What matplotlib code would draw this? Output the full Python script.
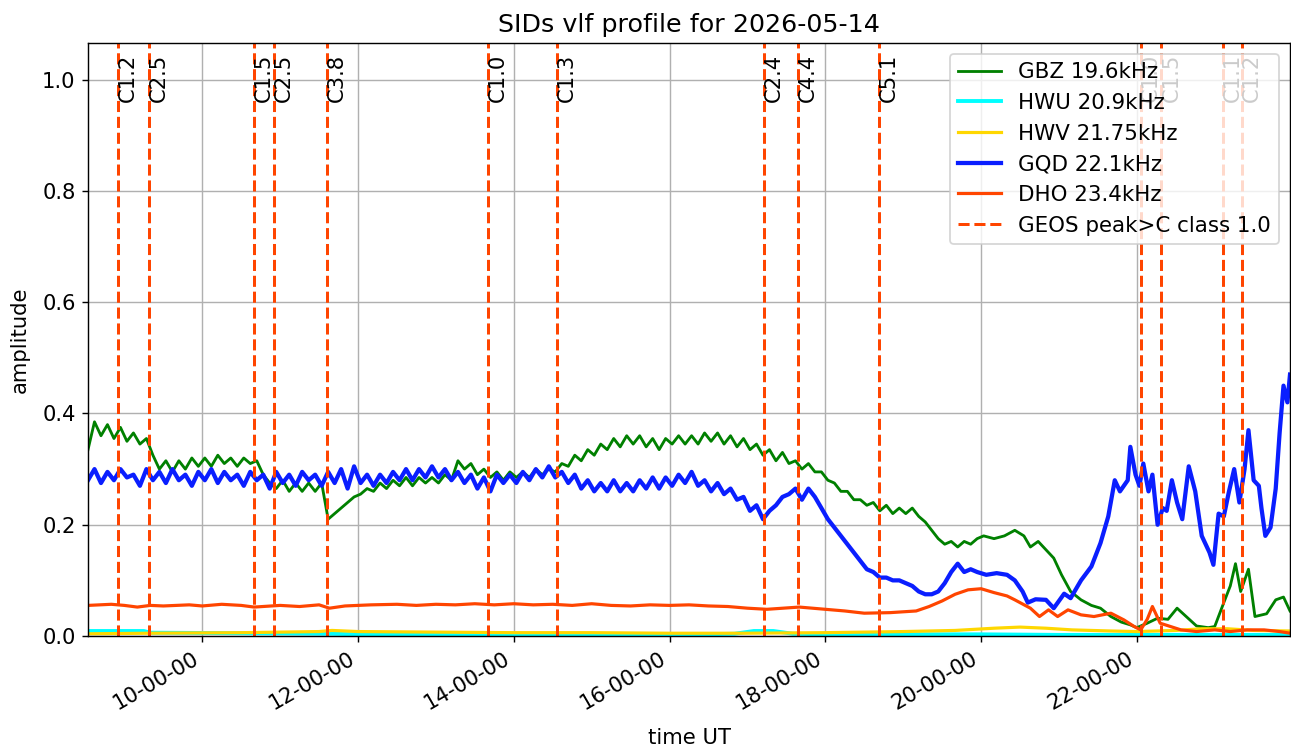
import matplotlib
matplotlib.use("Agg")
import matplotlib.pyplot as plt
import matplotlib.dates as mdates
import pandas as pd

DATE = "2026-05-14"
GRID_START = "08:32"   # first sample of the 5-minute readings
GRID_STEP = "5min"

# GBZ 19.6kHz: 5-minute readings 08:32 .. 19:57, then irregular readings
gbz_grid_values = [
    0.335, 0.385, 0.36, 0.38, 0.355, 0.375, 0.35, 0.365, 0.345, 0.355,
    0.325, 0.30, 0.315, 0.295, 0.315, 0.30, 0.32, 0.305, 0.32, 0.305,
    0.325, 0.31, 0.32, 0.305, 0.32, 0.31, 0.315, 0.29, 0.275, 0.265,
    0.28, 0.26, 0.275, 0.26, 0.275, 0.26, 0.275, 0.21, 0.22, 0.23,
    0.24, 0.25, 0.255, 0.265, 0.26, 0.275, 0.265, 0.28, 0.27, 0.285,
    0.27, 0.285, 0.275, 0.285, 0.275, 0.29, 0.28, 0.315, 0.30, 0.31,
    0.29, 0.30, 0.285, 0.295, 0.28, 0.295, 0.285, 0.295, 0.285, 0.30,
    0.29, 0.30, 0.295, 0.31, 0.305, 0.325, 0.315, 0.335, 0.325, 0.345,
    0.335, 0.355, 0.34, 0.36, 0.345, 0.36, 0.34, 0.355, 0.335, 0.355,
    0.345, 0.36, 0.345, 0.36, 0.345, 0.365, 0.35, 0.365, 0.345, 0.36,
    0.34, 0.355, 0.335, 0.345, 0.325, 0.335, 0.315, 0.33, 0.31, 0.315,
    0.30, 0.31, 0.295, 0.295, 0.28, 0.275, 0.26, 0.26, 0.245, 0.245,
    0.235, 0.24, 0.225, 0.235, 0.22, 0.23, 0.22, 0.23, 0.215, 0.205,
    0.19, 0.175, 0.165, 0.17, 0.16, 0.17, 0.165, 0.175]
gbz_late_times = ["20:02", "20:10", "20:18", "20:26", "20:33", "20:38", "20:44", "20:48", "20:56",
                  "21:02", "21:09", "21:17", "21:25", "21:32", "21:40", "21:48", "21:55", "22:00",
                  "22:08", "22:16", "22:24", "22:31", "22:38", "22:46", "22:55", "23:00", "23:07",
                  "23:12", "23:16", "23:20", "23:26", "23:31", "23:40", "23:47", "23:53", "23:58"]
gbz_late_values = [0.18, 0.175, 0.18, 0.19, 0.18, 0.16, 0.17, 0.16, 0.14,
                   0.11, 0.08, 0.065, 0.055, 0.05, 0.035, 0.025, 0.02, 0.015,
                   0.023, 0.032, 0.03, 0.05, 0.035, 0.018, 0.015, 0.017, 0.06,
                   0.09, 0.13, 0.08, 0.12, 0.035, 0.04, 0.065, 0.07, 0.045]

# GQD 22.1kHz: 5-minute readings 08:32 .. 19:57, then irregular readings
gqd_grid_values = [
    0.28, 0.30, 0.275, 0.295, 0.28, 0.30, 0.285, 0.29, 0.27, 0.30,
    0.28, 0.295, 0.275, 0.30, 0.28, 0.29, 0.27, 0.295, 0.28, 0.30,
    0.275, 0.295, 0.28, 0.29, 0.27, 0.295, 0.28, 0.29, 0.265, 0.295,
    0.275, 0.29, 0.27, 0.295, 0.28, 0.29, 0.27, 0.295, 0.275, 0.30,
    0.265, 0.305, 0.275, 0.29, 0.27, 0.29, 0.275, 0.295, 0.28, 0.30,
    0.28, 0.30, 0.285, 0.305, 0.285, 0.30, 0.28, 0.295, 0.275, 0.29,
    0.265, 0.285, 0.26, 0.29, 0.275, 0.29, 0.275, 0.295, 0.28, 0.30,
    0.285, 0.305, 0.285, 0.295, 0.275, 0.29, 0.265, 0.28, 0.26, 0.275,
    0.26, 0.28, 0.26, 0.275, 0.26, 0.28, 0.265, 0.285, 0.265, 0.285,
    0.27, 0.29, 0.275, 0.295, 0.27, 0.28, 0.26, 0.275, 0.255, 0.265,
    0.245, 0.25, 0.225, 0.235, 0.21, 0.225, 0.235, 0.25, 0.255, 0.265,
    0.245, 0.265, 0.25, 0.23, 0.21, 0.195, 0.18, 0.165, 0.15, 0.135,
    0.12, 0.115, 0.105, 0.105, 0.10, 0.10, 0.095, 0.09, 0.08, 0.075,
    0.075, 0.08, 0.095, 0.115, 0.13, 0.115, 0.12, 0.115]
gqd_late_times = ["20:04", "20:12", "20:20", "20:26", "20:32", "20:36", "20:42", "20:50", "20:56",
                  "21:04", "21:09", "21:17", "21:25", "21:32", "21:38", "21:43", "21:47", "21:53",
                  "21:55", "21:59", "22:02", "22:05", "22:09", "22:12", "22:16", "22:20", "22:23",
                  "22:27", "22:31", "22:35", "22:40", "22:45", "22:50", "22:56", "22:59", "23:03",
                  "23:07", "23:11", "23:15", "23:19", "23:23", "23:26", "23:30", "23:34", "23:36",
                  "23:39", "23:43", "23:47", "23:50", "23:53", "23:56", "23:58"]
gqd_late_values = [0.11, 0.113, 0.11, 0.10, 0.08, 0.06, 0.066, 0.065, 0.05,
                   0.076, 0.068, 0.10, 0.125, 0.167, 0.215, 0.28, 0.26, 0.28,
                   0.34, 0.29, 0.27, 0.31, 0.26, 0.29, 0.20, 0.23, 0.225,
                   0.28, 0.24, 0.21, 0.305, 0.26, 0.18, 0.15, 0.128, 0.22,
                   0.215, 0.26, 0.30, 0.24, 0.30, 0.37, 0.28, 0.27, 0.23,
                   0.18, 0.195, 0.265, 0.365, 0.45, 0.42, 0.47]

dho_times = ["08:32", "08:50", "09:00", "09:10", "09:20", "09:30", "09:50", "10:00", "10:15", "10:30",
             "10:40", "11:00", "11:15", "11:30", "11:38", "11:50", "12:10", "12:30", "12:45", "13:00",
             "13:15", "13:30", "13:45", "14:00", "14:15", "14:30", "14:45", "15:00", "15:15", "15:30",
             "15:45", "16:00", "16:15", "16:30", "16:45", "17:00", "17:15", "17:40", "18:00",
             "18:15", "18:30", "18:50", "19:10", "19:20", "19:30", "19:40", "19:50", "20:00", "20:10",
             "20:20", "20:26", "20:38", "20:45", "20:52", "20:59", "21:07", "21:17", "21:27", "21:40",
             "21:50", "21:58", "22:03", "22:08", "22:12", "22:18", "22:26", "22:34", "22:46", "23:00",
             "23:12", "23:25", "23:38", "23:50", "23:58"]
dho_values = [0.055, 0.057, 0.055, 0.052, 0.055, 0.054, 0.056, 0.054, 0.057, 0.055,
              0.052, 0.055, 0.053, 0.056, 0.05, 0.054, 0.056, 0.057, 0.055, 0.057,
              0.056, 0.058, 0.056, 0.058, 0.056, 0.057, 0.055, 0.058, 0.055, 0.054,
              0.056, 0.055, 0.056, 0.054, 0.053, 0.05, 0.048, 0.052, 0.048,
              0.045, 0.041, 0.042, 0.045, 0.053, 0.063, 0.075, 0.083, 0.085, 0.078,
              0.072, 0.065, 0.05, 0.035, 0.047, 0.035, 0.047, 0.038, 0.035, 0.041,
              0.029, 0.017, 0.011, 0.03, 0.053, 0.023, 0.017, 0.011, 0.008, 0.011,
              0.008, 0.011, 0.011, 0.008, 0.005]

hwv_times = ["08:32", "09:20", "10:30", "11:30", "11:40", "12:00", "13:00", "14:00", "15:00", "16:00",
             "17:00", "18:00", "19:00", "19:40", "20:10", "20:30", "20:50", "21:10", "21:40", "22:00",
             "22:30", "22:50", "23:10", "23:30", "23:58"]
hwv_values = [0.004, 0.005, 0.006, 0.008, 0.010, 0.008, 0.007, 0.006, 0.006, 0.005,
              0.005, 0.006, 0.008, 0.010, 0.014, 0.016, 0.014, 0.011, 0.009, 0.008,
              0.010, 0.013, 0.013, 0.010, 0.009]

hwu_times = ["08:32", "09:15", "09:20", "10:30", "11:40", "12:00", "13:00", "14:00", "15:00", "16:00",
             "16:50", "17:05", "17:20", "17:35", "18:00", "19:00", "20:00", "21:00", "22:00", "23:00",
             "23:58"]
hwu_values = [0.009, 0.009, 0.006, 0.005, 0.004, 0.003, 0.003, 0.003, 0.002, 0.002,
              0.004, 0.009, 0.009, 0.004, 0.003, 0.003, 0.003, 0.002, 0.002, 0.002,
              0.002]

flare_times = ["08:55", "09:19", "10:40", "10:55", "11:36", "13:40", "14:33", "17:13", "17:39", "18:41",
               "22:03", "22:19", "23:06", "23:21"]
flare_labels = ["C1.2", "C2.5", "C1.5", "C2.5", "C3.8", "C1.0", "C1.3", "C2.4", "C4.4", "C5.1",
                "C1.0", "C1.5", "C1.1", "C1.2"]


def to_dt(times):
    return pd.to_datetime([f"{DATE} {t}" for t in times])


def grid_dt(n):
    return pd.date_range(f"{DATE} {GRID_START}", periods=n, freq=GRID_STEP)


gbz_t = grid_dt(len(gbz_grid_values)).append(to_dt(gbz_late_times))
gbz_v = gbz_grid_values + gbz_late_values
gqd_t = grid_dt(len(gqd_grid_values)).append(to_dt(gqd_late_times))
gqd_v = gqd_grid_values + gqd_late_values

series = [
    ("GBZ 19.6kHz", gbz_t, gbz_v, "green", 1.6),
    ("HWU 20.9kHz", to_dt(hwu_times), hwu_values, "cyan", 2.2),
    ("HWV 21.75kHz", to_dt(hwv_times), hwv_values, "gold", 1.8),
    ("GQD 22.1kHz", gqd_t, gqd_v, "#0a1eff", 2.4),
    ("DHO 23.4kHz", to_dt(dho_times), dho_values, "orangered", 1.8),
]

fig = plt.figure(figsize=(1291 / 127, 749 / 127), dpi=127)
ax = fig.add_axes([88 / 1291, 1 - 636 / 749, (1290 - 88) / 1291, (636 - 43) / 749])

for name, t, v, c, lw in series:
    ax.plot(t, v, color=c, lw=lw, label=name)

ftimes = to_dt(flare_times)
for i, (ft, lab) in enumerate(zip(ftimes, flare_labels)):
    ax.axvline(ft, color="orangered", ls="--", lw=1.7,
               label="GEOS peak>C class 1.0" if i == 0 else None)
    ax.text(ft, 0.96, lab, rotation=90, fontsize=12, ha="left", va="bottom")

ax.set_xlim(pd.Timestamp(f"{DATE} 08:32"), pd.Timestamp(f"{DATE} 23:58"))
ax.set_ylim(0, 1.066)
ax.set_yticks([0.0, 0.2, 0.4, 0.6, 0.8, 1.0])
ax.xaxis.set_major_locator(mdates.HourLocator(byhour=range(0, 24, 2)))
ax.xaxis.set_major_formatter(mdates.DateFormatter("%H-%M-%S"))
for lbl in ax.get_xticklabels():
    lbl.set_rotation(30)
    lbl.set_ha("right")
ax.tick_params(labelsize=12)
ax.grid(True)
ax.set_xlabel("time UT", fontsize=12, labelpad=8)
ax.set_ylabel("amplitude", fontsize=12, labelpad=7)
ax.set_title(f"SIDs vlf profile for {DATE}", fontsize=14.4)
ax.legend(loc="upper right", fontsize=12.1)

fig.savefig("out.png", dpi=127)
